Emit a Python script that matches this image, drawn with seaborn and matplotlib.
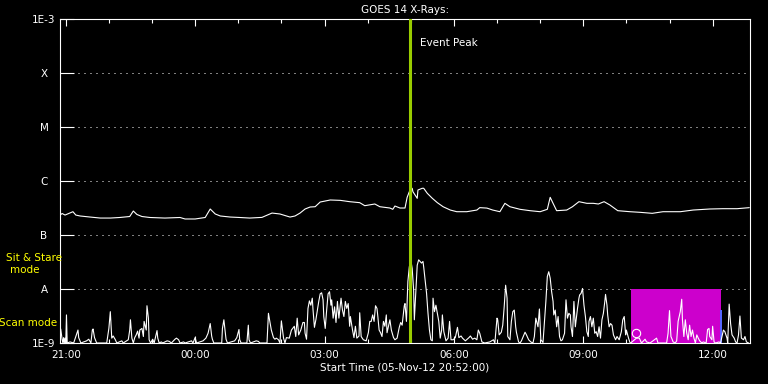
import numpy as np
import pandas as pd
import matplotlib
matplotlib.use("Agg")
import matplotlib.pyplot as plt
import matplotlib.dates as mdates
from matplotlib.ticker import NullLocator
import seaborn as sns

# ---------------- data ----------------
start_time = "2012-11-05 20:52:00"
span_minutes = 960

# GOES 14 long-channel X-ray flux (W/m^2), minutes after start
xray_min = [0, 3, 7, 18, 22, 28, 42, 56, 70, 83,
            97, 102, 107, 114, 125, 146, 167, 174, 188, 202,
            209, 216, 223, 237, 250, 264, 281, 295, 306, 320,
            327, 334, 341, 348, 355, 362, 369, 376, 390, 403,
            417, 424, 438, 445, 459, 463, 466, 473, 480, 483,
            486, 490, 491, 497, 498, 504, 506, 511, 518, 525,
            533, 543, 552, 566, 580, 584, 594, 602, 612, 619,
            626, 640, 654, 668, 678, 682, 686, 691, 705, 713,
            722, 733, 742, 749, 757, 765, 776, 793, 807, 824,
            839, 863, 881, 904, 922, 942, 959]
xray_flux = [2.34e-7, 2.50e-7, 2.34e-7, 2.70e-7, 2.34e-7, 2.25e-7, 2.15e-7, 2.06e-7, 2.06e-7, 2.11e-7,
             2.20e-7, 2.78e-7, 2.40e-7, 2.20e-7, 2.11e-7, 2.06e-7, 2.11e-7, 1.98e-7, 1.98e-7, 2.11e-7,
             3.03e-7, 2.45e-7, 2.25e-7, 2.15e-7, 2.11e-7, 2.06e-7, 2.12e-7, 2.55e-7, 2.45e-7, 2.15e-7,
             2.25e-7, 2.55e-7, 3.03e-7, 3.30e-7, 3.34e-7, 4.08e-7, 4.26e-7, 4.45e-7, 4.38e-7, 4.14e-7,
             3.97e-7, 3.49e-7, 3.75e-7, 3.34e-7, 3.16e-7, 2.99e-7, 3.44e-7, 3.16e-7, 3.16e-7, 4.99e-7,
             6.34e-7, 7.33e-7, 6.34e-7, 4.78e-7, 6.81e-7, 7.33e-7, 7.33e-7, 5.92e-7, 4.78e-7, 3.97e-7,
             3.34e-7, 2.90e-7, 2.70e-7, 2.70e-7, 2.90e-7, 3.21e-7, 3.15e-7, 2.90e-7, 2.70e-7, 3.86e-7,
             3.34e-7, 2.99e-7, 2.82e-7, 2.70e-7, 2.99e-7, 4.99e-7, 3.86e-7, 2.82e-7, 2.90e-7, 3.34e-7,
             4.14e-7, 3.86e-7, 3.86e-7, 3.75e-7, 4.14e-7, 3.60e-7, 2.82e-7, 2.70e-7, 2.63e-7, 2.52e-7,
             2.70e-7, 2.70e-7, 2.90e-7, 3.03e-7, 3.07e-7, 3.07e-7, 3.21e-7]

# Lower-band activity trace (decades above 1E-9), minutes after start
mode_min = [1, 3, 4, 5, 6, 7, 8, 9, 10, 14,
            19, 25, 26, 29, 37, 40, 43, 45, 46, 48,
            51, 65, 68, 70, 72, 74, 77, 79, 86, 88,
            95, 97, 98, 100, 102, 104, 106, 108, 110, 111,
            114, 116, 117, 120, 121, 123, 124, 126, 129, 131,
            135, 136, 138, 141, 143, 149, 152, 155, 160, 162,
            165, 167, 172, 174, 183, 185, 188, 190, 199, 203,
            206, 209, 211, 212, 214, 225, 226, 228, 230, 231,
            233, 243, 246, 249, 250, 252, 260, 262, 263, 265,
            273, 276, 278, 288, 290, 292, 294, 297, 299, 301,
            304, 306,
            308, 311, 313, 315, 319, 322, 326, 328, 330, 332,
            335, 338, 340, 341, 343, 345, 347, 349, 351, 352,
            354, 356, 358, 360, 362, 364, 366, 367, 369, 371,
            373, 375, 377, 378, 380, 382, 384, 386, 388, 390,
            391, 393, 395, 397, 399, 401, 403, 404, 407, 409,
            411, 413, 416, 417, 419, 422, 426, 429, 431, 433,
            435, 437, 439, 441, 442, 444, 446, 448, 450, 452,
            454, 455, 457, 459, 461, 464, 466, 469, 472, 474,
            476, 479, 480, 482, 484, 486, 488, 490, 492, 493,
            495, 497, 499, 501, 503, 505, 506, 508, 510, 512,
            514, 516, 518, 519, 521, 523, 525, 527, 529, 531,
            532, 534, 537, 540, 542, 544, 547, 550, 553, 555,
            558, 560, 564, 569, 571, 574, 577, 580, 582,
            584, 587, 591, 598, 603, 605, 608, 609, 611, 614,
            616, 618, 620, 622, 623, 626, 628, 630, 632, 634,
            635, 638, 640, 642, 647, 649, 652, 655, 658, 660,
            662, 665, 667, 669, 672, 676, 678, 680, 682, 684,
            686, 687, 689, 691, 693, 695, 697, 699, 702, 704,
            706, 708, 710, 711, 713, 715, 717, 720, 722, 723,
            725, 727, 729, 731, 733, 735, 736, 738, 740, 742,
            744, 746, 748, 750, 752, 754, 756, 758, 759, 761,
            762, 764, 766, 768, 770, 773, 775, 778, 781, 783,
            785, 787, 788, 791, 793,
            794, 802, 806, 809, 814, 816, 821, 830, 832, 844,
            846, 848, 850, 851, 853, 856, 858, 860, 863, 865,
            866, 868, 870, 872, 874, 876, 878, 880, 882, 884,
            886, 888, 890, 893, 895, 899, 901, 903, 904, 907,
            908, 910, 912, 917, 919, 923, 925, 928, 929, 931,
            933, 935, 938, 940, 942, 944, 946, 948, 951, 953,
            955, 958]
mode_level = [.26, .06, 0, .10, 0, .09, 0, .52, 0, .02,
              0, .24, .10, 0, .04, .07, 0, .24, .26, .10,
              0, 0, .27, .58, .09, .13, .06, 0, .04, 0,
              .06, .24, .43, .09, 0, .10, .15, .22, .09, .24,
              .27, .12, .40, .24, .69, .46, .06, 0, .07, 0,
              .23, .09, 0, .02, 0, .04, .03, 0, .07, .09,
              .06, 0, .02, 0, .04, 0, .10, 0, .04, .09,
              .18, .36, .13, .07, 0, 0, .27, .43, .19, .07,
              0, .04, .10, .25, .06, 0, 0, .33, .06, 0,
              .04, .03, 0, 0, .55, .40, .24, .10, .07, .09,
              .06, 0,
              .41, .09, 0, .10, .09, .24, .31, .12, .46, .15,
              .24, .38, .38, .18, .07, .64, .78, .70, .83, .62,
              .29, .43, .60, .77, .91, .93, .80, .49, .27, .61,
              .91, .95, .70, .80, .46, .67, .38, .77, .46, .70,
              .83, .61, .49, .77, .64, .73, .31, .49, .24, .10,
              .31, .09, .13, .56, .12, .06, .04, .19, .40, .40,
              .52, .40, .69, .64, .52, .24, .19, .12, .40, .31,
              .52, .19, .31, .43, .24, .10, .06, .09, .29, .38,
              .33, .69, .73, .40, 1.14, 1.41, 1.54, 1.38, .98, .43,
              .92, 1.44, 1.54, 1.51, 1.48, 1.51, 1.41, 1.17, .92, .55,
              .24, .06, .04, .83, .58, .70, .55, .40, .09, .24,
              .52, .21, .04, .09, .40, .06, .06, .10, .29, .10,
              .13, .09, .04, .10, .13, .07, .09, .06, .24,
              .18, .02, 0, .02, .06, 0, .46, .43, .15, .20,
              .33, .67, 1.07, .83, .12, .06, .40, .58, .61, .30,
              .20, .02, 0, .04, .20, .15, .06, .02, 0, .12,
              .46, .30, .63, .06, .01, .77, 1.23, 1.32, 1.20, .95,
              .77, .52, .61, .30, .49, .12, .04, .06, .18, .80,
              .46, .55, .52, .30, .12, .77, .30, .64, .83, .89,
              .92, 1.01, .70, .49, .21, .12, .40, .49, .30, .46,
              .18, .21, .12, .30, .09, .43, .55, .77, .90, .70,
              .52, .30, .36, .33, .15, .06, .12, .06, .21, .43,
              .49, .15, .24, .09, .01,
              0, .09, .09, 0, .07, .02, 0, .09, 0, 0,
              .18, .60, .12, .09, .02, 0, .04, .40, .58, .81,
              .43, .12, .43, .18, .06, .33, .12, .24, .09, 0,
              .15, .09, .04, 0, .02, 0, .25, .27, .12, .06,
              .31, .02, 0, .02, 0, .24, .21, .09, 0, .72,
              .36, .15, .09, .02, 0, .15, .50, .09, .06, .12,
              .02, 0]

level_ticks = [1e-3, 1e-4, 1e-5, 1e-6, 1e-7, 1e-8, 1e-9]
level_labels = ["1E-3", "X", "M", "C", "B", "A", "1E-9"]

event_peak_time = "2012-11-06 04:59"
scan_box_times = ["2012-11-06 10:06", "2012-11-06 12:12"]
scan_box_level = 1.0
blue_bar_times = ["2012-11-06 12:10", "2012-11-06 12:13"]
blue_bar_level = 0.61
marker_time = "2012-11-06 10:13"
marker_level = 0.19

# ---------------- style ----------------
sns.set_theme(style="dark", rc={
    "axes.facecolor": "black", "figure.facecolor": "black",
    "axes.edgecolor": "white", "text.color": "white",
    "axes.labelcolor": "white", "xtick.color": "white", "ytick.color": "white",
})
plt.rcParams["font.family"] = ["DejaVu Sans"]
FS = 7.5

W, H = 768, 384
fig = plt.figure(figsize=(W / 100, H / 100), dpi=100)
fig.patch.set_facecolor("black")
L, R, T, B = 60, 750, 19, 343
ax = fig.add_axes([L / W, (H - B) / H, (R - L) / W, (B - T) / H])
ax.set_facecolor("black")

t0 = pd.Timestamp(start_time)
xray_df = pd.DataFrame({"time": t0 + pd.to_timedelta(xray_min, unit="m"),
                        "flux": xray_flux})
mode_df = pd.DataFrame({"time": t0 + pd.to_timedelta(mode_min, unit="m"),
                        "level": mode_level})

sns.lineplot(data=xray_df, x="time", y="flux", ax=ax, color="white",
             linewidth=0.8, estimator=None, sort=False)
ax.set_yscale("log")
ax.set_ylim(1e-9, 1e-3)
ax.set_xlim(t0, t0 + pd.Timedelta(minutes=span_minutes))

ax.set_yticks(level_ticks)
ax.set_yticklabels(level_labels, ha="center")
ax.yaxis.set_minor_locator(NullLocator())
ax.tick_params(axis="y", which="major", direction="in", length=10, width=0.8,
               color="white", left=True, right=True, labelsize=FS,
               labelcolor="white", pad=11.5)

ax.xaxis.set_major_locator(mdates.HourLocator(byhour=range(0, 24, 3)))
ax.xaxis.set_minor_locator(mdates.HourLocator())
ax.xaxis.set_major_formatter(mdates.DateFormatter("%H:%M"))
ax.tick_params(axis="x", which="major", direction="in", length=5, width=0.8,
               color="white", top=True, bottom=True, labelsize=FS,
               labelcolor="white", pad=5)
ax.tick_params(axis="x", which="minor", direction="in", length=3, width=0.8,
               color="white", top=True, bottom=True)

ax.grid(False)
ax.yaxis.grid(True, color="white", linestyle=(0, (1, 5)), linewidth=0.72)
for sp in ax.spines.values():
    sp.set_color("white")
    sp.set_linewidth(0.8)

ax.set_title("GOES 14 X-Rays:", color="white", fontsize=FS, pad=4)
ax.set_xlabel("Start Time (05-Nov-12 20:52:00)", color="white", fontsize=FS,
              labelpad=2)
ax.set_ylabel("")

# overlay axis for the lower band (linear decades above 1E-9)
ax2 = ax.twinx()
ax2.set_ylim(0, 6)
ax2.set_yticks([])
ax2.grid(False)
for sp in ax2.spines.values():
    sp.set_visible(False)

ax2.fill_between(pd.to_datetime(scan_box_times), 0, scan_box_level,
                 color="#cc00cc", linewidth=0)
sns.lineplot(data=mode_df, x="time", y="level", ax=ax2, color="white",
             linewidth=0.8, estimator=None, sort=False)
ax2.fill_between(pd.to_datetime(blue_bar_times), 0, blue_bar_level,
                 color="#5566ff", linewidth=0)
ax2.plot([pd.Timestamp(marker_time)], [marker_level], marker="o", ms=6,
         mfc="none", mec="white", mew=0.8, linestyle="none")
ev = pd.Timestamp(event_peak_time)
ax2.axvline(ev, color="#99cc00", linewidth=2.2)
ax2.text(ev + pd.Timedelta(minutes=14), 0.926, "Event Peak", color="white",
         fontsize=FS, ha="left", va="center",
         transform=ax2.get_xaxis_transform())
ax2.set_ylabel("")
ax2.set_xlim(t0, t0 + pd.Timedelta(minutes=span_minutes))

fig.text(34 / W, 1 - 258 / H, "Sit & Stare", color="yellow", fontsize=FS,
         ha="center", va="center")
fig.text(24.5 / W, 1 - 270 / H, "mode", color="yellow", fontsize=FS,
         ha="center", va="center")
fig.text(28.5 / W, 1 - 323 / H, "Scan mode", color="yellow", fontsize=FS,
         ha="center", va="center")

fig.savefig("out.png", dpi=100, facecolor="black")
